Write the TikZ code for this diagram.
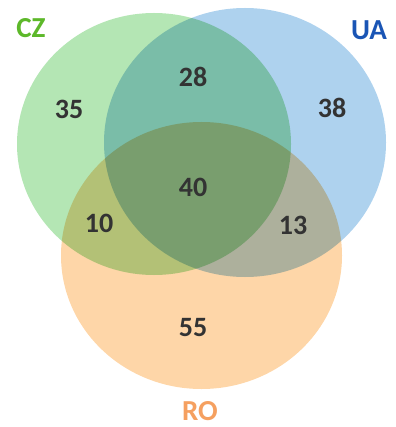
\documentclass[tikz,border=0pt]{standalone}
\usepackage{fontspec}
\setmainfont{Carlito}
\usepackage{tikz}
\definecolor{czfill}{HTML}{B4E6B4}
\definecolor{uafill}{HTML}{AED2EE}
\definecolor{rofill}{HTML}{FED6A8}
\definecolor{cztext}{HTML}{5DB82A}
\definecolor{uatext}{HTML}{1A55B5}
\definecolor{rotext}{HTML}{F5A060}
\definecolor{numtext}{HTML}{333333}

\begin{document}
\begin{tikzpicture}[x=1pt,y=-1pt,
    setname/.style={font=\fontsize{29}{31}\selectfont\bfseries},
    count/.style={font=\fontsize{28}{30}\selectfont\bfseries,text=numtext}]
    \useasboundingbox (0,0) rectangle (395,427);
    % the three sets
    \begin{scope}[blend group=multiply]
	\fill[czfill] (154,144) ellipse (137 and 131);
	\fill[uafill] (245,142.5) ellipse (141 and 134.5);
	\fill[rofill] (201.5,255.5) ellipse (140.5 and 133.5);
    \end{scope}
    % set names
    \node[setname,text=cztext] (cz) at (31,28) {CZ};
    \node[setname,text=uatext] (ua) at (369,30) {UA};
    \node[setname,text=rotext] (ro) at (200,411) {RO};
    % counts
    \node[count] (czonly) at (69,109) {35};
    \node[count] (czua) at (193,77) {28};
    \node[count] (uaonly) at (332,108) {38};
    \node[count] (all) at (193,187) {40};
    \node[count] (czro) at (99,223) {10};
    \node[count] (uaro) at (293,225) {13};
    \node[count] (roonly) at (193,328) {55};
\end{tikzpicture}
\end{document}
